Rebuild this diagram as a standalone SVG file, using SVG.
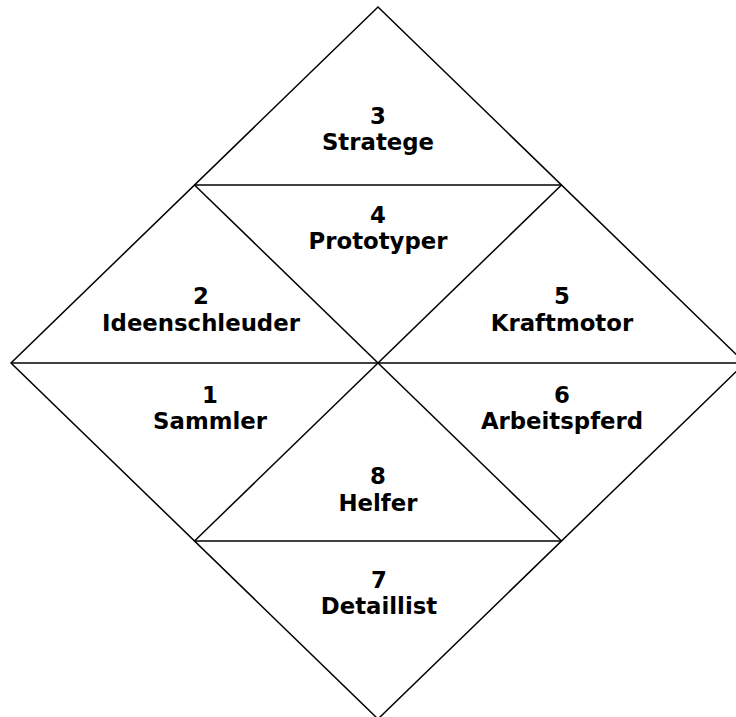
<svg xmlns="http://www.w3.org/2000/svg" width="736" height="717" viewBox="0 0 736 717">
<style>
.ln{stroke:#000;stroke-width:1.5;fill:none}
.t{font-family:"DejaVu Sans",Verdana,sans-serif;font-weight:bold;font-size:22.8px;text-anchor:middle;fill:#000}
</style>
<rect width="736" height="717" fill="#fff"/>
<g id="connectors">
<polygon class="ln" points="378,7 745,363 378,719 11,363"/>
<line class="ln" x1="11" y1="363" x2="745" y2="363"/>
<line class="ln" x1="194.5" y1="185" x2="561.5" y2="185"/>
<line class="ln" x1="194.5" y1="541" x2="561.5" y2="541"/>
<line class="ln" x1="194.5" y1="185" x2="561.5" y2="541"/>
<line class="ln" x1="561.5" y1="185" x2="194.5" y2="541"/>
</g>
<g id="n3"><text class="t" x="378" y="124">3</text><text class="t" x="378" y="150">Stratege</text></g>
<g id="n4"><text class="t" x="378" y="222.5">4</text><text class="t" x="378" y="249">Prototyper</text></g>
<g id="n2"><text class="t" x="201" y="304">2</text><text class="t" x="201" y="331">Ideenschleuder</text></g>
<g id="n5"><text class="t" x="562" y="304">5</text><text class="t" x="562" y="331">Kraftmotor</text></g>
<g id="n1"><text class="t" x="210" y="402.5">1</text><text class="t" x="210" y="429">Sammler</text></g>
<g id="n6"><text class="t" x="562" y="402.5">6</text><text class="t" x="562" y="429">Arbeitspferd</text></g>
<g id="n8"><text class="t" x="378" y="484">8</text><text class="t" x="378" y="511">Helfer</text></g>
<g id="n7"><text class="t" x="379" y="587.5">7</text><text class="t" x="379" y="614">Detaillist</text></g>
</svg>
